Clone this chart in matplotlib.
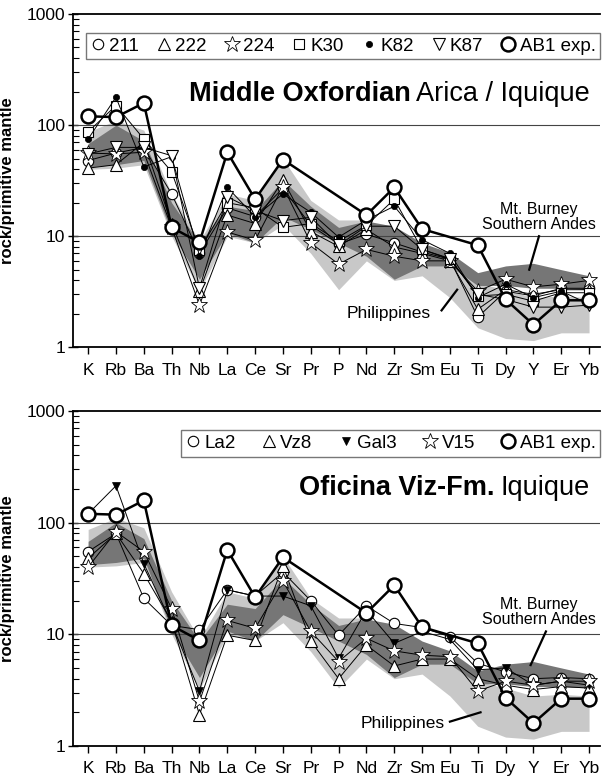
import numpy as np
import matplotlib
matplotlib.use('Agg')
import matplotlib.pyplot as plt
from matplotlib.ticker import LogLocator, NullFormatter, FixedLocator

plt.rcParams['font.family'] = ['Liberation Sans', 'DejaVu Sans']

nan = np.nan

ELEMENTS = ['K', 'Rb', 'Ba', 'Th', 'Nb', 'La', 'Ce', 'Sr', 'Pr', 'P',
            'Nd', 'Zr', 'Sm', 'Eu', 'Ti', 'Dy', 'Y', 'Er', 'Yb']

# reference fields (same in both panels)
PHIL_LO = [40, 41, 44, 10, 3.2, 10, 8.7, 12.7, 7, 3.3, 6, 4, 4.4, 2.8, 1.5, 1.2, 1.15, 1.35, 1.35]
PHIL_HI = [87, 110, 90, 24, 9, 24, 21, 50, 21, 14, 14, 11, 8, 6.3, 3.8, 3.3, 2.8, 2.9, 2.8]
BURNEY_LO = [42, 44, 48, 10.7, 4.1, 10.7, 8.7, 15, 11.5, 8.7, 6.6, 4.1, 5.4, 5.4, 3.6, 3.6, 3.4, 3.4, 3.3]
BURNEY_HI = [68, 100, 72, 20, 8.7, 18.6, 17, 32, 18.6, 12, 13.7, 12.3, 8.7, 7.1, 4.7, 5.4, 5.7, 5.0, 4.4]

# experiment, shown in both panels
AB1 = [120, 118, 158, 12, 8.8, 57, 21.5, 49, nan, nan, 15.5, 27.5, 11.6, nan, 8.3, 2.7, 1.6, 2.65, 2.65]

# Middle Oxfordian, Arica / Iquique
S211 = [48, 56, 63, 24, 7.0, 18, 15, 27, 12.5, 8.5, 10.4, 8.7, 7.2, 6.2, 1.87, 3.2, 2.9, 3.4, 3.4]
S222 = [41, 44, 70, 13, 3.2, 15.5, 13, 32, 11, 8.1, 11.5, 8.0, 7.0, 6.0, 2.2, 3.3, 3.0, 3.3, 3.3]
S224 = [56, 55, 57, 12, 2.4, 10.9, 9.2, 28, 8.7, 5.6, 7.6, 6.6, 6.0, 6.0, 3.2, 4.1, 3.5, 3.7, 4.0]
K30 = [87, 150, 75, 38, 7.5, 20, 18, 12, 13, 9, 12.5, 21.5, 7.6, 6.3, 2.9, 3.0, 2.6, 3.1, 3.1]
K82 = [75, 178, 42, 52, 6.7, 27.5, 15, 24, 16.4, 9.8, 14, 18.6, 9.3, 7.0, 2.8, 3.7, 2.8, 3.2, 2.45]
K87 = [55, 63, 63, 53, 3.4, 22.6, 17, 13.8, 14.8, 8.3, 12.3, 12.3, 7.6, 6.2, 3.0, 2.7, 2.3, 2.3, 2.4]

# Oficina Viz-Fm., Iquique
LA2 = [55, 80, 21, 12, 11, 25, 22, 36, 20, 9.8, 18, 12.5, 11.5, 9.5, 5.5, 4.6, 4.0, 4.1, 4.0]
VZ8 = [48, 80, 35, 13, 1.9, 9.8, 8.8, 41, 8.7, 4.0, 8, 5.2, 6.0, 6.0, 4.0, 3.5, 3.2, 3.4, 3.3]
GAL3 = [120, 214, 43, 12.5, 3.1, 25, 22, 22, 18, 6.1, 16.4, 8.3, 10.6, 9.0, 4.8, 5.0, 3.5, 3.8, 3.5]
V15 = [40, 83, 55, 17, 2.5, 13.3, 11.3, 30, 10.6, 5.7, 9.2, 7.1, 6.5, 6.3, 3.1, 3.8, 3.5, 3.8, 3.8]

# marker styles
STYLE = {
    'circle': dict(marker='o', ms=7.5, mfc='white', mec='black', mew=0.8),
    'tri': dict(marker='^', ms=8, mfc='white', mec='black', mew=0.8),
    'star': dict(marker='*', ms=12, mfc='white', mec='black', mew=0.6),
    'square': dict(marker='s', ms=7, mfc='white', mec='black', mew=0.8),
    'dot': dict(marker='o', ms=4.5, mfc='black', mec='black', mew=0.5),
    'vtri': dict(marker='v', ms=8, mfc='white', mec='black', mew=0.8),
    'vfill': dict(marker='v', ms=6, mfc='black', mec='black', mew=0.5),
    'ab1': dict(marker='o', ms=10, mfc='white', mec='black', mew=1.8),
}

LIGHT = '#c8c8c8'
DARK = '#767676'


def plot_series(ax, values, style, label, lw=0.7, z=4):
    x = np.arange(len(ELEMENTS))
    y = np.array(values, dtype=float)
    m = ~np.isnan(y)
    ax.plot(x[m], y[m], color='black', lw=lw, label=label, zorder=z, **STYLE[style])


def setup_axes(ax):
    x = np.arange(len(ELEMENTS))
    ax.fill_between(x, PHIL_LO, PHIL_HI, color=LIGHT, lw=0, zorder=1)
    ax.fill_between(x, BURNEY_LO, BURNEY_HI, color=DARK, lw=0, zorder=2)
    ax.set_yscale('log')
    ax.set_ylim(1, 1000)
    ax.set_xlim(-0.55, 18.4)
    ax.axhline(10, color='#444444', lw=0.8, zorder=2.5)
    ax.axhline(100, color='#444444', lw=0.8, zorder=2.5)
    ax.yaxis.set_major_locator(FixedLocator([1, 10, 100, 1000]))
    ax.set_yticklabels(['1', '10', '100', '1000'])
    ax.yaxis.set_minor_locator(LogLocator(base=10, subs=np.arange(2, 10)))
    ax.yaxis.set_minor_formatter(NullFormatter())
    ax.set_xticks(x)
    ax.set_xticklabels(ELEMENTS)
    ax.tick_params(axis='x', direction='out', length=5, width=1, labelsize=12.5, pad=6)
    ax.tick_params(axis='y', which='major', direction='inout', length=7, width=1, labelsize=12.5, pad=2)
    ax.tick_params(axis='y', which='minor', direction='in', length=4, width=0.8)
    ax.spines['right'].set_visible(False)
    for s in ['left', 'bottom', 'top']:
        ax.spines[s].set_linewidth(1.3)
    ax.set_ylabel('rock/primitive mantle', fontsize=12, fontweight='bold', labelpad=8)


def draw_title(fig, ax, bold, normal, y):
    r = fig.canvas.get_renderer()
    t = ax.text(0.981, y, normal, transform=ax.transAxes, ha='right', va='center', fontsize=19.5)
    bb = t.get_window_extent(r)
    xb = ax.transAxes.inverted().transform((bb.x0 - 6, bb.y0))[0]
    ax.text(xb, y, bold, transform=ax.transAxes, ha='right', va='center',
            fontsize=19.5, fontweight='bold')


def draw_labels(ax, burney_txt, burney_line, phil_txt, phil_line):
    ax.text(burney_txt[0], burney_txt[1], 'Mt. Burney\nSouthern Andes', ha='center', va='center',
            fontsize=11.5, linespacing=1.0, zorder=6)
    ax.plot(burney_line[0], burney_line[1], color='black', lw=1.6, zorder=6)
    ax.text(phil_txt[0], phil_txt[1], 'Philippines', ha='center', va='center', fontsize=12.5, zorder=6)
    ax.plot(phil_line[0], phil_line[1], color='black', lw=1.6, zorder=6)


def add_legend(ax, ncol, colspace):
    leg = ax.legend(loc='upper right', bbox_to_anchor=(1.0, 0.943), ncol=ncol, frameon=True,
                    fancybox=False, fontsize=13.5, handlelength=0.8, handletextpad=0.2,
                    columnspacing=colspace, borderpad=0.25, borderaxespad=0.0)
    for h in leg.get_lines():
        h.set_linestyle('none')
    leg.get_frame().set_edgecolor('#555555')
    leg.get_frame().set_linewidth(1.0)
    return leg


fig = plt.figure(figsize=(6.02, 7.77), dpi=100)
ax1 = fig.add_axes([0.121, 0.553, 0.876, 0.429])
ax2 = fig.add_axes([0.121, 0.040, 0.876, 0.431])

# ---- top panel ----
setup_axes(ax1)
plot_series(ax1, S211, 'circle', '211')
plot_series(ax1, S222, 'tri', '222')
plot_series(ax1, S224, 'star', '224')
plot_series(ax1, K30, 'square', 'K30')
plot_series(ax1, K82, 'dot', 'K82')
plot_series(ax1, K87, 'vtri', 'K87')
plot_series(ax1, AB1, 'ab1', 'AB1 exp.', lw=1.8, z=5)
add_legend(ax1, 7, 0.93)
draw_labels(ax1, (16.2, 14.8), ([16.2, 15.85], [10.0, 5.0]),
            (10.8, 2.0), ([12.7, 13.26], [2.15, 3.3]))

# ---- bottom panel ----
setup_axes(ax2)
plot_series(ax2, LA2, 'circle', 'La2')
plot_series(ax2, VZ8, 'tri', 'Vz8')
plot_series(ax2, GAL3, 'vfill', 'Gal3')
plot_series(ax2, V15, 'star', 'V15')
plot_series(ax2, AB1, 'ab1', 'AB1 exp.', lw=1.8, z=5)
add_legend(ax2, 5, 1.38)
draw_labels(ax2, (16.2, 15.7), ([16.45, 15.9], [10.6, 5.3]),
            (11.3, 1.6), ([13.0, 14.1], [1.65, 2.0]))

draw_title(fig, ax1, 'Middle Oxfordian', 'Arica / Iquique', 0.76)
draw_title(fig, ax2, 'Oficina Viz-Fm.', 'Iquique', 0.77)

fig.savefig('out.png', dpi=100)
